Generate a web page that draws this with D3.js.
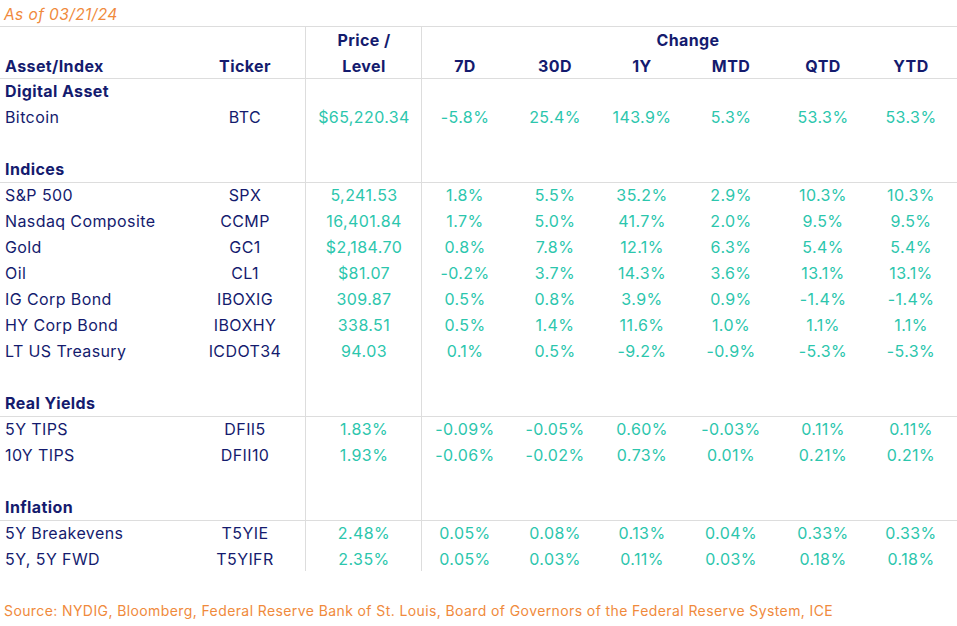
<!DOCTYPE html>
<html><head><meta charset="utf-8">
<script src="https://cdn.jsdelivr.net/npm/d3@7"></script>
<style>body{margin:0;background:#fff}svg{display:block}text{font-family:Inter,"Noto Sans",sans-serif;letter-spacing:0.4px}</style>
</head><body><svg id="c" width="957" height="626"></svg>
<script>
const asOf = "As of 03/21/24";
const source = "Source: NYDIG, Bloomberg, Federal Reserve Bank of St. Louis, Board of Governors of the Federal Reserve System, ICE";
const columns = ["Asset/Index","Ticker","Level","7D","30D","1Y","MTD","QTD","YTD"];
const sections = ["Digital Asset","Indices","Real Yields","Inflation"];
const names = [["Bitcoin"],["S&P 500","Nasdaq Composite","Gold","Oil","IG Corp Bond","HY Corp Bond","LT US Treasury"],["5Y TIPS","10Y TIPS"],["5Y Breakevens","5Y, 5Y FWD"]];
const tickers = [["BTC"],["SPX","CCMP","GC1","CL1","IBOXIG","IBOXHY","ICDOT34"],["DFII5","DFII10"],["T5YIE","T5YIFR"]];
const levels = [["$65,220.34"],["5,241.53","16,401.84","$2,184.70","$81.07","309.87","338.51","94.03"],["1.83%","1.93%"],["2.48%","2.35%"]];
const changes = [
 [["-5.8%","25.4%","143.9%","5.3%","53.3%","53.3%"]],
 [["1.8%","5.5%","35.2%","2.9%","10.3%","10.3%"],
  ["1.7%","5.0%","41.7%","2.0%","9.5%","9.5%"],
  ["0.8%","7.8%","12.1%","6.3%","5.4%","5.4%"],
  ["-0.2%","3.7%","14.3%","3.6%","13.1%","13.1%"],
  ["0.5%","0.8%","3.9%","0.9%","-1.4%","-1.4%"],
  ["0.5%","1.4%","11.6%","1.0%","1.1%","1.1%"],
  ["0.1%","0.5%","-9.2%","-0.9%","-5.3%","-5.3%"]],
 [["-0.09%","-0.05%","0.60%","-0.03%","0.11%","0.11%"],
  ["-0.06%","-0.02%","0.73%","0.01%","0.21%","0.21%"]],
 [["0.05%","0.08%","0.13%","0.04%","0.33%","0.33%"],
  ["0.05%","0.03%","0.11%","0.03%","0.18%","0.18%"]]
];
const navy="#141b6e", teal="#2cc6ad", orange="#f08a3c", grid="#dddddd";
const svg=d3.select("#c");
const centres=[245,364,465,555,642,731,823,911];
const xc=d3.scaleOrdinal().domain(columns.slice(1)).range(centres);
const rows=[];
sections.forEach((s,i)=>{
  if(i>0) rows.push({type:"blank"});
  rows.push({type:"section",name:s});
  names[i].forEach((n,j)=>rows.push({type:"data",name:n,ticker:tickers[i][j],level:levels[i][j],ch:changes[i][j]}));
});
const y=d3.scaleLinear().domain([0,1]).range([91,117]);
const fs=16;
const line=(x1,y1,x2,y2)=>svg.append("line").attr("x1",x1).attr("y1",y1).attr("x2",x2).attr("y2",y2).attr("stroke",grid).attr("stroke-width",1);
const lastY=y(rows.length-1);
line(0,26.5,957,26.5); line(0,78.5,957,78.5);
line(305.5,26,305.5,lastY+12); line(421.5,26,421.5,lastY+12);
rows.forEach((r,i)=>{ if(r.type==="section"&&i>0) line(0,Math.round(y(i))+13.5,957,Math.round(y(i))+13.5); });
svg.append("text").attr("x",4).attr("y",20).attr("fill",orange).attr("font-style","italic").attr("font-size",15.5).text(asOf);
const hdr=(t,x,yy,a)=>svg.append("text").attr("x",x).attr("y",yy).attr("text-anchor",a||"middle").attr("fill",navy).attr("font-weight","bold").attr("font-size",fs).text(t);
hdr("Asset/Index",5,72,"start"); hdr("Ticker",xc("Ticker"),72);
hdr("Price /",364,46); hdr("Level",364,72);
hdr("Change",688,46);
columns.slice(3).forEach(c=>hdr(c,xc(c),72));
rows.forEach((r,i)=>{
  const yy=y(i)+6;
  if(r.type==="section") svg.append("text").attr("x",5).attr("y",yy).attr("fill",navy).attr("font-weight","bold").attr("font-size",fs).text(r.name);
  if(r.type==="data"){
    svg.append("text").attr("x",5).attr("y",yy).attr("fill",navy).attr("font-size",fs).text(r.name);
    svg.append("text").attr("x",xc("Ticker")).attr("y",yy).attr("text-anchor","middle").attr("fill",navy).attr("font-size",fs).text(r.ticker);
    svg.append("text").attr("x",xc("Level")).attr("y",yy).attr("text-anchor","middle").attr("fill",teal).attr("font-size",fs).text(r.level);
    r.ch.forEach((v,k)=>svg.append("text").attr("x",xc(columns[3+k])).attr("y",yy).attr("text-anchor","middle").attr("fill",teal).attr("font-size",fs).text(v));
  }
});
svg.append("text").attr("x",4).attr("y",616).attr("fill",orange).attr("font-size",14).text(source);
</script></body></html>
